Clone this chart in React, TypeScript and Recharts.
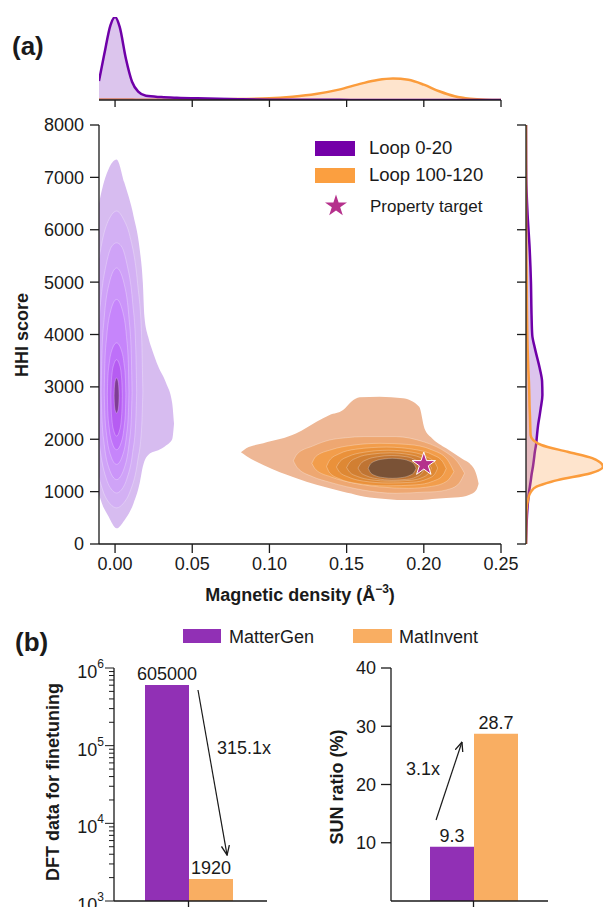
import {
  ComposedChart,
  Area,
  Line,
  Scatter,
  XAxis,
  YAxis,
  BarChart,
  Bar,
  LabelList,
  Symbols,
} from "recharts";

const FONT = '"Liberation Sans", Arial, Helvetica, sans-serif';
const INK = "#1a1a1a";
const PURPLE_LINE = "#6f00a8";
const ORANGE_LINE = "#fb9c3c";

// ---------- (a) marginal densities (relative to each panel's peak) ----------
const topX = [-0.0104, -0.007, -0.003, 0, 0.003, 0.007, 0.011, 0.015, 0.02, 0.03, 0.04, 0.06, 0.08, 0.1, 0.115, 0.13, 0.145, 0.16, 0.17, 0.18, 0.19, 0.2, 0.21, 0.22, 0.23, 0.24, 0.25];
const topPurple = [0.23, 0.55, 0.9, 1.0, 0.88, 0.5, 0.22, 0.1, 0.05, 0.035, 0.027, 0.018, 0.009, 0.004, 0.003, 0.002, 0.002, 0.001, 0.001, 0.001, 0, 0, 0, 0, 0, 0, 0];
const topOrange = [0.008, 0.008, 0.008, 0.008, 0.008, 0.008, 0.008, 0.007, 0.006, 0.005, 0.005, 0.007, 0.012, 0.02, 0.04, 0.072, 0.125, 0.2, 0.24, 0.258, 0.243, 0.185, 0.105, 0.045, 0.015, 0.003, 0];

const sideHHI = [0, 300, 550, 870, 1000, 1095, 1190, 1220, 1350, 1475, 1640, 1760, 1890, 1985, 2080, 2270, 2460, 2590, 2845, 3100, 3350, 3740, 3990, 4370, 5010, 5650, 6280, 7000, 8000];
const sidePurple = [0, 0.006, 0.013, 0.03, 0.04, 0.05, 0.06, 0.063, 0.075, 0.09, 0.105, 0.115, 0.13, 0.137, 0.143, 0.157, 0.178, 0.191, 0.213, 0.209, 0.179, 0.115, 0.081, 0.072, 0.064, 0.047, 0.021, 0.003, 0];
const sideOrange = [0, 0.002, 0.004, 0.03, 0.064, 0.136, 0.33, 0.41, 0.84, 1.0, 0.86, 0.54, 0.2, 0.094, 0.06, 0.055, 0.051, 0.047, 0.043, 0.038, 0.03, 0.021, 0.017, 0.013, 0.009, 0.004, 0.001, 0, 0];

// ---------- (a) contour levels: [magnetic density, HHI low, HHI high] ----------
const purpleL1 = [[-0.0104, 950, 6500], [-0.0086, 785, 6750], [-0.0043, 530, 7150], [0.001, 300, 7340], [0.006, 450, 6900], [0.012, 780, 6260], [0.016, 1170, 5620], [0.018, 1480, 4990], [0.019, 1580, 4350], [0.0215, 1700, 3950], [0.024, 1750, 3710], [0.028, 1790, 3390], [0.033, 1880, 3080], [0.037, 2000, 2690], [0.0382, 2300, 2300]];
const purpleL2 = [[-0.0104, 1270, 5450], [-0.0075, 986, 5890], [-0.003, 760, 6250], [0.001, 690, 6357], [0.0055, 780, 6200], [0.0095, 986, 5890], [0.0146, 1574, 4974], [0.0172, 2215, 3972], [0.018, 2900, 2900]];
const purpleL3 = [[-0.0104, 1976, 4268], [-0.0094, 1745, 4610], [-0.0055, 1233, 5368], [-0.002, 1030, 5690], [0.001, 975, 5750], [0.004, 1030, 5690], [0.0075, 1233, 5368], [0.0114, 1745, 4610], [0.01335, 2303, 3784], [0.014, 2900, 2900]];
const purpleL4 = [[-0.009, 2900, 2900], [-0.0085, 2382, 3635], [-0.007, 1898, 4322], [-0.004, 1454, 4952], [0.001, 1230, 5270], [0.006, 1454, 4952], [0.009, 1898, 4322], [0.0105, 2382, 3635], [0.011, 2900, 2900]];
const purpleL5 = [[-0.007, 2900, 2900], [-0.0066, 2472, 3449], [-0.0054, 2072, 3962], [-0.003, 1705, 4433], [0.001, 1520, 4670], [0.005, 1705, 4433], [0.0074, 2072, 3962], [0.0086, 2472, 3449], [0.009, 2900, 2900]];
const purpleL6 = [[-0.005, 2850, 2850], [-0.0047, 2525, 3157], [-0.0038, 2220, 3444], [-0.002, 1941, 3707], [0.001, 1800, 3840], [0.004, 1941, 3707], [0.0058, 2220, 3444], [0.0067, 2525, 3157], [0.007, 2850, 2850]];
const purpleL7 = [[-0.0027, 2820, 2820], [-0.0025, 2584, 3037], [-0.002, 2364, 3240], [-0.00085, 2162, 3426], [0.001, 2060, 3520], [0.00285, 2162, 3426], [0.004, 2364, 3240], [0.0045, 2584, 3037], [0.0047, 2820, 2820]];
const purpleCore = [[-0.0006, 2830, 2830], [-0.0005, 2728, 2935], [-0.0003, 2632, 3034], [0.0002, 2544, 3124], [0.001, 2500, 3170], [0.0018, 2544, 3124], [0.0023, 2632, 3034], [0.0025, 2728, 2935], [0.0026, 2830, 2830]];

const orangeL1 = [[0.0815, 1750, 1750], [0.085, 1680, 1830], [0.096, 1508, 1922], [0.1175, 1254, 2113], [0.1305, 1130, 2335], [0.139, 1063, 2463], [0.1477, 1000, 2558], [0.153, 965, 2717], [0.1585, 920, 2800], [0.1714, 870, 2812], [0.1865, 840, 2781], [0.197, 840, 2620], [0.2005, 845, 2200], [0.2053, 860, 2020], [0.2145, 880, 1827], [0.2253, 903, 1620], [0.2296, 940, 1540], [0.234, 1031, 1330], [0.2355, 1150, 1150]];
const orangeL2 = [[0.1155, 1590, 1590], [0.118, 1460, 1720], [0.128, 1285, 1870], [0.139, 1180, 1985], [0.15, 1094, 2030], [0.1606, 1030, 2050], [0.182, 968, 2050], [0.2, 990, 1950], [0.208, 1000, 1860], [0.2145, 1031, 1750], [0.222, 1130, 1560], [0.2264, 1350, 1350]];
const orangeL3 = [[0.1275, 1540, 1540], [0.13, 1420, 1670], [0.14, 1280, 1800], [0.155, 1160, 1890], [0.1714, 1090, 1922], [0.19, 1063, 1900], [0.205, 1100, 1800], [0.215, 1200, 1620], [0.2195, 1380, 1380]];
const orangeL4 = [[0.137, 1480, 1480], [0.139, 1360, 1600], [0.145, 1250, 1720], [0.156, 1160, 1810], [0.1757, 1110, 1850], [0.195, 1130, 1800], [0.206, 1200, 1700], [0.212, 1300, 1580], [0.2145, 1440, 1440]];
const orangeL5 = [[0.1434, 1470, 1470], [0.1455, 1370, 1570], [0.151, 1280, 1670], [0.161, 1200, 1750], [0.177, 1165, 1790], [0.193, 1180, 1750], [0.202, 1240, 1660], [0.207, 1330, 1560], [0.209, 1450, 1450]];
const orangeL6 = [[0.15, 1460, 1460], [0.152, 1370, 1560], [0.157, 1290, 1650], [0.166, 1225, 1715], [0.178, 1200, 1740], [0.191, 1215, 1705], [0.199, 1270, 1630], [0.203, 1350, 1540], [0.205, 1450, 1450]];
const orangeL7 = [[0.1574, 1450, 1450], [0.159, 1370, 1530], [0.163, 1300, 1610], [0.17, 1245, 1665], [0.179, 1220, 1690], [0.189, 1235, 1665], [0.195, 1280, 1600], [0.199, 1360, 1520], [0.2005, 1440, 1440]];
const orangeCore = [[0.164, 1445, 1445], [0.1655, 1360, 1530], [0.169, 1300, 1590], [0.1745, 1265, 1625], [0.1795, 1254, 1636], [0.185, 1265, 1625], [0.19, 1300, 1590], [0.1935, 1360, 1530], [0.195, 1445, 1445]];

const target = [{ x: 0.2, y: 1520 }];

const magTicks = [0, 0.05, 0.1, 0.15, 0.2, 0.25];
const hhiTicks = [0, 1000, 2000, 3000, 4000, 5000, 6000, 7000, 8000];

// ---------- (b) bars ----------
const groups = ["MatterGen", "MatInvent"];
const dftValues = [605000, 1920];
const sunValues = [9.3, 28.7];
const sunTicks = [0, 10, 20, 30, 40];
const dftDecades = [1000, 10000, 100000];
// arrow ends: x as a fraction of the plot width, y in data units
const dftArrow = [{ x: 0.549, y: 521000 }, { x: 0.739, y: 3900 }];
const sunArrow = [{ x: 0.287, y: 13.9 }, { x: 0.452, y: 27.3 }];

const purpleLevels = [purpleL1, purpleL2, purpleL3, purpleL4, purpleL5, purpleL6, purpleL7, purpleCore];
const purpleFills = ["#d7bcf0", "#d3b0f4", "#cfa3f7", "#cb95f9", "#c685fb", "#be70f9", "#b65cf2", "#7f3d94"];
const orangeLevels = [orangeL1, orangeL2, orangeL3, orangeL4, orangeL5, orangeL6, orangeL7, orangeCore];
const orangeFills = ["#eeb795", "#eea771", "#f29d4b", "#ea913a", "#de8834", "#d17f32", "#bf7433", "#7a5236"];
const barColors = ["#9130b5", "#f9ae62"];

const toRows = (pts: number[][]) => pts.map(([x, lo, hi]) => ({ x, r: [lo, hi] }));
const topRows = topX.map((x, i) => ({ x, purple: topPurple[i], orange: topOrange[i] }));
const sideRows = sideHHI.map((y, i) => ({ y, purple: sidePurple[i], orange: sideOrange[i] }));
const dftRows = [Object.fromEntries([["name", "dft"], ...groups.map((g, i) => [g, dftValues[i]])])];
const sunRows = [Object.fromEntries([["name", "sun"], ...groups.map((g, i) => [g, sunValues[i]])])];
const logTicks = [...dftDecades.flatMap((d) => [1, 2, 3, 4, 5, 6, 7, 8, 9].map((k) => k * d)), 1000000];

const tickStyle = { fill: INK, fontSize: 18, fontFamily: FONT };
const axisStroke = { stroke: INK, strokeWidth: 1.3 };

const LogTick = (props: any) => {
  const { x, y, payload } = props;
  const exp = Math.log10(payload.value);
  const major = Math.abs(exp - Math.round(exp)) < 1e-6;
  return (
    <g>
      <line x1={x - (major ? 9 : 5)} y1={y} x2={x} y2={y} stroke={INK} strokeWidth={1} />
      {major && (
        <text x={x - 10} y={y + 10} textAnchor="end" fontSize={18} fontFamily={FONT} fill={INK}>
          10
          <tspan dy={-10} fontSize={12}>
            {Math.round(exp)}
          </tspan>
        </text>
      )}
    </g>
  );
};

const Txt = ({ x, y, children, size = 18, bold = false, rotate = false, center = false }: any) => (
  <div
    style={{
      position: "absolute",
      left: x,
      top: y,
      transform: `translate(${center ? "-50%" : "0"}, -50%)${rotate ? " rotate(-90deg)" : ""}`,
      fontFamily: FONT,
      fontSize: size,
      fontWeight: bold ? 700 : 400,
      lineHeight: 1,
      whiteSpace: "nowrap",
      color: INK,
    }}
  >
    {children}
  </div>
);

const Swatch = ({ x, y, w, h, color }: any) => (
  <div style={{ position: "absolute", left: x, top: y, width: w, height: h, background: color }} />
);

const starShape = (p: any) => (
  <Symbols type="star" cx={p.cx} cy={p.cy} size={170} fill="#b5318c" stroke="#ffffff" strokeWidth={1} />
);

// arrow layer laid over a bar panel, same plot box, numeric x
const ArrowLayer = ({ data, width, margin, yScale, yDomain }: any) => (
  <ComposedChart width={width} height={257} data={data} margin={margin}>
    <XAxis type="number" dataKey="x" domain={[0, 1]} hide allowDataOverflow />
    <YAxis type="number" scale={yScale} domain={yDomain} hide allowDataOverflow />
    <Line dataKey="y" type="linear" stroke={INK} strokeWidth={1.2} dot={false} markerEnd="url(#arrowHead)" isAnimationActive={false} />
  </ComposedChart>
);

export default function App() {
  return (
    <div style={{ position: "absolute", left: 0, top: 0, width: 605, height: 907, background: "#fff", overflow: "hidden" }}>
      <svg width={0} height={0} style={{ position: "absolute" }}>
        <defs>
          <marker id="arrowHead" viewBox="0 0 10 10" refX={9.5} refY={5} markerWidth={10} markerHeight={10} markerUnits="userSpaceOnUse" orient="auto">
            <path d="M0,1 L9.5,5 L0,9" fill="none" stroke={INK} strokeWidth={1.3} />
          </marker>
        </defs>
      </svg>

      {/* top marginal */}
      <div style={{ position: "absolute", left: 0, top: 0 }}>
        <ComposedChart width={605} height={112} data={topRows} margin={{ top: 17, right: 104, left: 99, bottom: 0 }}>
          <XAxis dataKey="x" type="number" domain={[-0.0104, 0.25]} allowDataOverflow ticks={magTicks} height={12} tickSize={7} tickFormatter={() => ""} axisLine={axisStroke} tickLine={axisStroke} />
          <YAxis hide domain={[0, 1]} allowDataOverflow />
          <Area dataKey="orange" type="monotone" stroke={ORANGE_LINE} strokeWidth={2.5} fill="#fba45a" fillOpacity={0.3} isAnimationActive={false} />
          <Area dataKey="purple" type="monotone" stroke={PURPLE_LINE} strokeWidth={2.5} fill="#b27fd6" fillOpacity={0.45} isAnimationActive={false} />
        </ComposedChart>
      </div>

      {/* main contour plot */}
      <div style={{ position: "absolute", left: 0, top: 0 }}>
        <ComposedChart width={605} height={620} margin={{ top: 125, right: 104, left: 0, bottom: 0 }}>
          <XAxis dataKey="x" type="number" domain={[-0.0104, 0.25]} allowDataOverflow ticks={magTicks} tickFormatter={(v: number) => v.toFixed(2)} height={76} tickSize={9} tickMargin={4} tick={tickStyle} axisLine={axisStroke} tickLine={axisStroke} />
          <YAxis type="number" domain={[0, 8000]} allowDataOverflow ticks={hhiTicks} width={99} tickSize={9} tickMargin={6} tick={tickStyle} axisLine={axisStroke} tickLine={axisStroke} />
          {purpleLevels.map((lv, i) => (
            <Area key={`p${i}`} data={toRows(lv)} dataKey="r" type="monotone" fill={purpleFills[i]} fillOpacity={1} stroke={i === 0 ? "none" : "#ffffff"} strokeOpacity={0.45} strokeWidth={0.6} isAnimationActive={false} />
          ))}
          {orangeLevels.map((lv, i) => (
            <Area key={`o${i}`} data={toRows(lv)} dataKey="r" type="monotone" fill={orangeFills[i]} fillOpacity={1} stroke={i === 0 ? "none" : "#ffffff"} strokeOpacity={0.45} strokeWidth={0.6} isAnimationActive={false} />
          ))}
          <Scatter data={target} dataKey="y" shape={starShape} isAnimationActive={false} />
        </ComposedChart>
      </div>

      {/* right marginal */}
      <div style={{ position: "absolute", left: 505, top: 0 }}>
        <ComposedChart layout="vertical" width={100} height={620} data={sideRows} margin={{ top: 125, right: 2, left: 0, bottom: 76 }}>
          <XAxis type="number" domain={[0, 1]} hide allowDataOverflow />
          <YAxis type="number" dataKey="y" reversed domain={[0, 8000]} allowDataOverflow ticks={hhiTicks} width={21} tickSize={9} tickFormatter={() => ""} axisLine={axisStroke} tickLine={axisStroke} />
          <Area dataKey="purple" type="monotone" stroke={PURPLE_LINE} strokeWidth={2.5} fill="#b27fd6" fillOpacity={0.45} isAnimationActive={false} />
          <Area dataKey="orange" type="monotone" stroke={ORANGE_LINE} strokeWidth={2.5} fill="#fba45a" fillOpacity={0.3} isAnimationActive={false} />
        </ComposedChart>
      </div>

      {/* (a) texts and legend */}
      <Txt x={12} y={46} size={26} bold>(a)</Txt>
      <Txt x={300} y={595} bold center>
        Magnetic density (Å<sup style={{ fontSize: 12, verticalAlign: "top", position: "relative", top: -3 }}>−3</sup>)
      </Txt>
      <Txt x={22} y={335} bold center rotate>HHI score</Txt>
      <Swatch x={315} y={141} w={40} h={15} color="#7400a8" />
      <Swatch x={315} y={168} w={40} h={15} color="#fb9f40" />
      <svg style={{ position: "absolute", left: 322, top: 192 }} width={28} height={28}>
        <Symbols type="star" cx={14} cy={14} size={150} fill="#b5318c" />
      </svg>
      <Txt x={369} y={148} size={18.5}>Loop 0-20</Txt>
      <Txt x={369} y={175} size={18.5}>Loop 100-120</Txt>
      <Txt x={370} y={206} size={17}>Property target</Txt>

      {/* (b) left: DFT data (log) */}
      <div style={{ position: "absolute", left: 0, top: 650 }}>
        <BarChart width={300} height={257} data={dftRows} margin={{ top: 18, right: 33, left: 54, bottom: 0 }} barGap={0} barSize={44}>
          <XAxis dataKey="name" height={6} tickSize={6} tickFormatter={() => ""} padding={{ left: 0, right: 4 }} axisLine={axisStroke} tickLine={axisStroke} />
          <YAxis type="number" scale="log" domain={[1000, 1000000]} allowDataOverflow ticks={logTicks} interval={0} width={60} tickSize={0} tickMargin={0} tickLine={false} tick={<LogTick />} axisLine={axisStroke} />
          {groups.map((g, i) => (
            <Bar key={g} dataKey={g} fill={barColors[i]} isAnimationActive={false}>
              <LabelList dataKey={g} position="top" offset={5} style={{ fill: INK, fontSize: 18, fontFamily: FONT }} />
            </Bar>
          ))}
        </BarChart>
      </div>
      <div style={{ position: "absolute", left: 0, top: 650 }}>
        <ArrowLayer data={dftArrow} width={300} margin={{ top: 18, right: 33, left: 114, bottom: 6 }} yScale="log" yDomain={[1000, 1000000]} />
      </div>

      {/* (b) right: SUN ratio */}
      <div style={{ position: "absolute", left: 300, top: 650 }}>
        <BarChart width={305} height={257} data={sunRows} margin={{ top: 18, right: 57, left: 51, bottom: 0 }} barGap={0} barSize={44}>
          <XAxis dataKey="name" height={6} tickSize={6} tickFormatter={() => ""} padding={{ left: 8, right: 0 }} axisLine={axisStroke} tickLine={axisStroke} />
          <YAxis type="number" domain={[0, 40]} allowDataOverflow ticks={sunTicks} width={40} tickSize={10} tickMargin={5} tick={tickStyle} axisLine={axisStroke} tickLine={axisStroke} />
          {groups.map((g, i) => (
            <Bar key={g} dataKey={g} fill={barColors[i]} isAnimationActive={false}>
              <LabelList dataKey={g} position="top" offset={5} style={{ fill: INK, fontSize: 18, fontFamily: FONT }} />
            </Bar>
          ))}
        </BarChart>
      </div>
      <div style={{ position: "absolute", left: 300, top: 650 }}>
        <ArrowLayer data={sunArrow} width={305} margin={{ top: 18, right: 57, left: 91, bottom: 6 }} yScale="linear" yDomain={[0, 40]} />
      </div>

      {/* (b) texts and legend */}
      <Txt x={15} y={642} size={26} bold>(b)</Txt>
      <Swatch x={183} y={629} w={38} h={14} color={barColors[0]} />
      <Txt x={229} y={637}>MatterGen</Txt>
      <Swatch x={353} y={629} w={39} h={14} color={barColors[1]} />
      <Txt x={399} y={637}>MatInvent</Txt>
      <Txt x={217} y={748}>315.1x</Txt>
      <Txt x={406} y={769}>3.1x</Txt>
      <Txt x={53} y={782} bold center rotate>DFT data for finetuning</Txt>
      <Txt x={337} y={787} bold center rotate>SUN ratio (%)</Txt>
    </div>
  );
}
